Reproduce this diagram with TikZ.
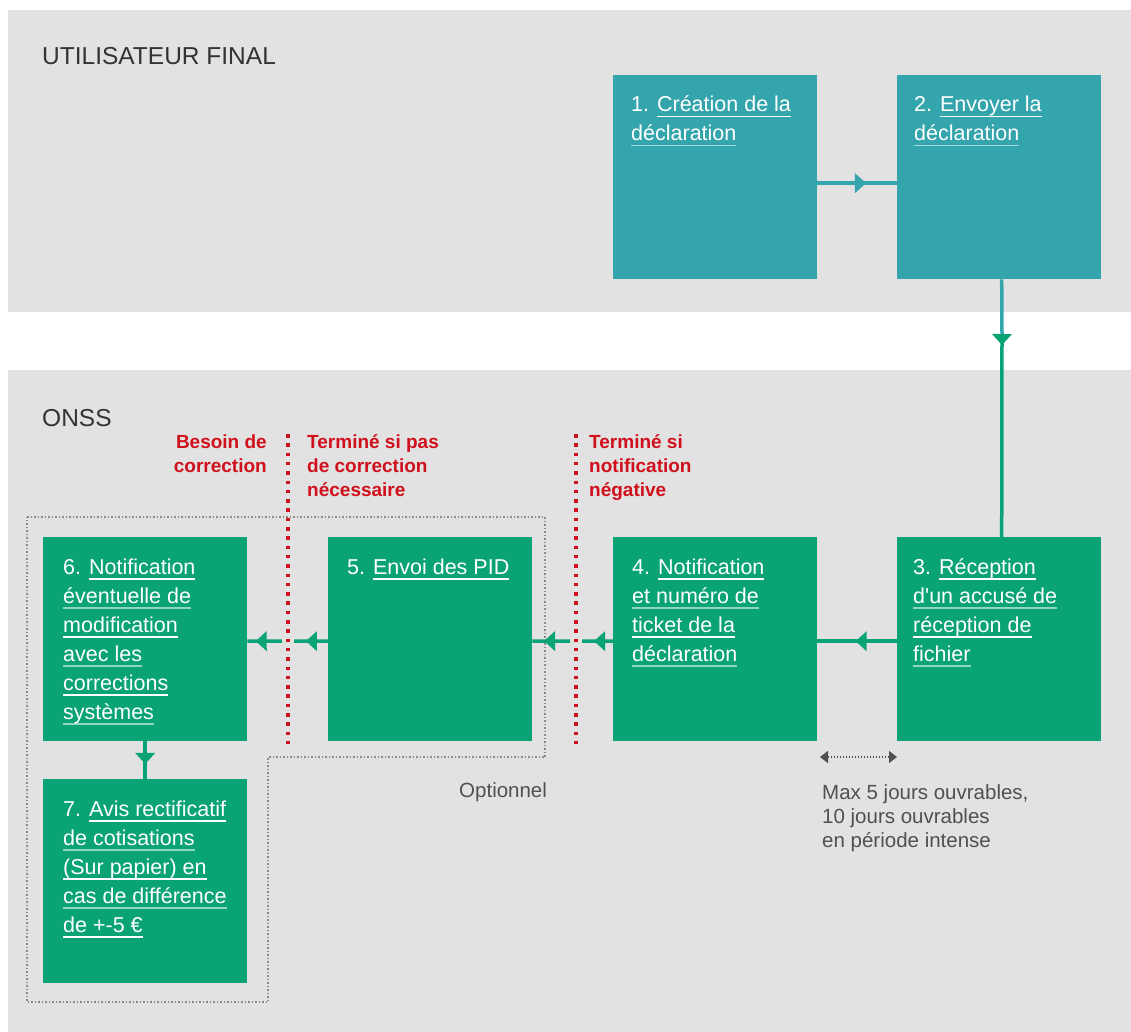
\documentclass[tikz,border=0pt]{standalone}
\usepackage{fontspec}
\newfontfamily\lib{Liberation Sans}
\usetikzlibrary{decorations.markings,arrows.meta}
\definecolor{band}{HTML}{E2E2E2}
\definecolor{tealc}{HTML}{34A5AC}
\definecolor{greenc}{HTML}{0AA376}
\definecolor{redc}{HTML}{D0101C}
\definecolor{titlec}{HTML}{333333}
\definecolor{notec}{HTML}{505050}
\definecolor{dotc}{HTML}{8A8A8A}
\newcommand\ulx[2]{\setbox0\hbox{#2}\rlap{\textcolor{#1}{\rule[-5.5pt]{\wd0}{1.8pt}}}\box0}
\newcommand\ua[1]{\ulx{white}{#1}}
\newcommand\ub[1]{\ulx{ulsoft}{#1}}
\tikzset{
  box/.style={rectangle, inner sep=0pt, minimum width=204pt, minimum height=204pt, anchor=north west},
  tealbox/.style={box, fill=tealc},
  greenbox/.style={box, fill=greenc},
  btext/.style={anchor=base west, align=left, inner sep=0pt, text=white,
    font=\lib\fontsize{21.5}{29}\selectfont\colorlet{ulsoft}{white!55!#1}},
  title/.style={anchor=base west, inner sep=0pt, text=titlec, font=\lib\fontsize{24.5}{28}\selectfont},
  redlabel/.style={inner sep=0pt, text=redc, font=\lib\bfseries\fontsize{19}{24}\selectfont},
  note/.style={anchor=base west, align=left, inner sep=0pt, text=notec, font=\lib\fontsize{20.5}{24}\selectfont},
  tline/.style={color=tealc, line width=3.5pt},
  gline/.style={color=greenc, line width=3.5pt},
  headat/.style={postaction={decorate}, decoration={markings, mark=at position #1 with {\fill (0pt,0pt) -- (-11pt,10pt) -- (-11pt,-10pt) -- cycle;}}},
  reddots/.style={color=redc, line width=3.5pt, dash pattern=on 3.5pt off 5.8pt},
  greydots/.style={color=dotc, line width=1.5pt, dash pattern=on 1.5pt off 2pt},
}
\begin{document}
\begin{tikzpicture}[x=1pt,y=-1pt]
\useasboundingbox[fill=white] (0,0) rectangle (1131,1032);
% bands
\fill[band] (8,10) rectangle (1131,312);
\fill[band] (8,370) rectangle (1131,1032);
\node[title] (tuser) at (42,65) {UTILISATEUR FINAL};
\node[title] (tonss) at (42,426) {ONSS};

% optional region
\draw[greydots] (27,517) -- (545,517) -- (545,757) -- (268,757) -- (268,1002) -- (27,1002) -- cycle;

% red separators
\draw[reddots] (288,434) -- (288,744);
\draw[reddots] (576,434) -- (576,744);

% boxes
\node[tealbox] (b1) at (613,75) {};
\node[tealbox] (b2) at (897,75) {};
\node[greenbox] (b3) at (897,537) {};
\node[greenbox] (b4) at (613,537) {};
\node[greenbox] (b5) at (328,537) {};
\node[greenbox] (b6) at (43,537) {};
\node[greenbox] (b7) at (43,779) {};

% texts (anchor = baseline of the last line)
\node[btext=tealc] (t1) at ([shift={(18,66)}]b1.north west) {1. \ua{Création de la}\\\ub{déclaration}};
\node[btext=tealc] (t2) at ([shift={(17,66)}]b2.north west) {2. \ua{Envoyer la}\\\ub{déclaration}};
\node[btext=greenc] (t3) at ([shift={(16,124)}]b3.north west) {3. \ua{Réception}\\\ub{d'un accusé de}\\\ua{réception de}\\\ub{fichier}};
\node[btext=greenc] (t4) at ([shift={(19,124)}]b4.north west) {4. \ua{Notification}\\\ub{et numéro de}\\\ua{ticket de la}\\\ub{déclaration}};
\node[btext=greenc] (t5) at ([shift={(19,37)}]b5.north west) {5. \ua{Envoi des PID}};
\node[btext=greenc] (t6) at ([shift={(20,182)}]b6.north west) {6. \ua{Notification}\\\ub{éventuelle de}\\\ua{modification}\\\ub{avec les}\\\ua{corrections}\\\ub{systèmes}};
\node[btext=greenc] (t7) at ([shift={(20,153)}]b7.north west) {7. \ua{Avis rectificatif}\\\ub{de cotisations}\\\ua{(Sur papier) en}\\\ub{cas de différence}\\\ua{de +-5 €}};

% red labels
\node[redlabel, anchor=base east, align=right] (l1) at (267,472) {Besoin de\\correction};
\node[redlabel, anchor=base west, align=left] (l2) at (307,496) {Terminé si pas\\de correction\\nécessaire};
\node[redlabel, anchor=base west, align=left] (l3) at (589,496) {Terminé si\\notification\\négative};

% notes
\node[note] (opt) at (459,797) {Optionnel};
\node[note] (max) at (822,847) {Max 5 jours ouvrables,\\10 jours ouvrables\\en période intense};

% connectors
\draw[tline, headat=0.61] ([yshift=-6pt]b1.east) -- ([yshift=-6pt]b2.west);
\coordinate (m23) at (1002,335);
\draw[tline] ([xshift=2.5pt]b2.south) -- (m23);
\draw[gline, headat=10pt] (m23) -- ([xshift=2.5pt]b3.north);
\draw[gline, headat=0.52] ([yshift=-2pt]b3.west) -- ([yshift=-2pt]b4.east);
\coordinate (g4a) at (582,641);
\coordinate (g4b) at (570,641);
\draw[gline, headat=0.61] ([yshift=-2pt]b4.west) -- (g4a);
\draw[gline, headat=0.69] (g4b) -- ([yshift=-2pt]b5.east);
\coordinate (g5a) at (294,641);
\coordinate (g5b) at (282,641);
\draw[gline, headat=0.65] ([yshift=-2pt]b5.west) -- (g5a);
\draw[gline, headat=0.76] (g5b) -- ([yshift=-2pt]b6.east);
\draw[gline, headat=0.6] (b6.south) -- (b7.north);

% duration arrow
\coordinate (d1) at (820,757);
\coordinate (d2) at (897,757);
\draw[notec, line width=1.5pt, dash pattern=on 1.5pt off 1.5pt, {Triangle[length=8pt,width=12pt]}-{Triangle[length=8pt,width=12pt]}] (d1) -- (d2);
\end{tikzpicture}
\end{document}
